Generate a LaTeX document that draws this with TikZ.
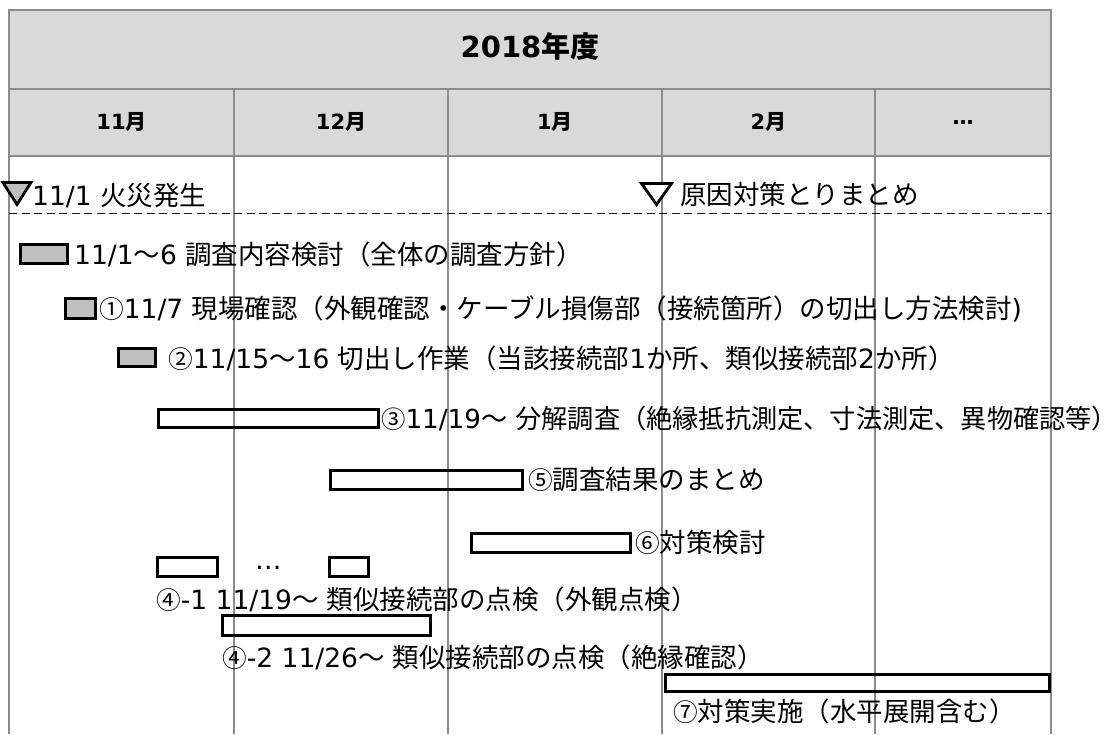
\documentclass[tikz,border=0pt]{standalone}
\usepackage{fontspec}
\usepackage{graphicx}
\setmainfont{Noto Sans CJK JP}
\newfontfamily\latn{DejaVu Sans}
\newcommand\circd[1]{\scalebox{0.93}{#1}}
\newcommand\lastparen{\makebox[0.5em][l]{）}}
\definecolor{hdr}{HTML}{D9D9D9}
\definecolor{gridc}{HTML}{8C8C8C}
\definecolor{barg}{HTML}{BFBFBF}
\begin{document}
\begin{tikzpicture}[x=1pt,y=-1pt,
  gridln/.style={draw=gridc, line width=1.6pt},
  hcell/.style={draw=gridc, line width=1.6pt, fill=hdr},
  bar/.style={draw=black, line width=3pt},
  graybar/.style={bar, fill=barg},
  lbl/.style={anchor=base west, inner sep=0pt, font=\fontsize{26.5}{30}\selectfont},
  hd/.style={anchor=base, inner sep=0pt, font=\fontsize{21}{24}\selectfont\bfseries},
  mile/.style={draw=black, line width=2.8pt},
  sep/.style={draw=black!90, line width=1.7pt, dash pattern=on 8pt off 4.5pt}]
\useasboundingbox (0,0) rectangle (1116,734);
% header
\path[hcell] (9,10) rectangle (1051,89);
\foreach \a/\b in {9/234,234/448,448/662,662/875,875/1051}
  \path[hcell] (\a,89) rectangle (\b,156);
\node[hd, font=\fontsize{29}{32}\selectfont\bfseries] (title) at (530,57.5) {{\latn 2018}年度};
\node[hd] (m11) at (121.5,129) {{\latn 11}月};
\node[hd] (m12) at (341,129) {{\latn 12}月};
\node[hd] (m1) at (555,129) {{\latn 1}月};
\node[hd] (m2) at (768.5,129) {{\latn 2}月};
\node[hd] (mdots) at (963,124) {{\latn …}};
% grid lines
\foreach \x in {9,234,448,662,875,1051}
  \draw[gridln] (\x,156) -- (\x,734);
% milestone separator
\draw[sep] (9,213.5) -- (1051,213.5);
% milestones
\draw[mile, fill=barg] (3,182.5) -- (31,182.5) -- (17,204.5) -- cycle;
\draw[mile, fill=white] (641.5,183.5) -- (671.5,183.5) -- (656.5,204.5) -- cycle;
\node[lbl] (fire) at (32,205) {{\latn 11/1 }火災発生};
\node[lbl] (summ) at (680,204) {原因対策とりまとめ};
% bars
\draw[graybar] (20.5,244.5) rectangle (67.5,263.5);
\draw[graybar] (65.5,298.5) rectangle (95.5,318.5);
\draw[graybar] (118.5,348.5) rectangle (155.5,366.5);
\draw[bar] (158.5,409.5) rectangle (378.5,427.5);
\draw[bar] (330.5,470.5) rectangle (522.5,489.5);
\draw[bar] (471.5,533.5) rectangle (630.5,552.5);
\draw[bar] (157.5,557.5) rectangle (217.5,576.5);
\draw[bar] (329.5,557.5) rectangle (368.5,576.5);
\draw[bar] (222.5,615.5) rectangle (430.5,635.5);
\draw[bar] (665.5,674.5) rectangle (1049.5,691.5);
% labels
\node[lbl] (t0) at (74,264) {{\latn 11/1}～{\latn 6 }調査内容検討（全体の調査方針）};
\node[lbl] (t1) at (99,318) {\circd{①}{\latn 11/7 }現場確認（外観確認・ケーブル損傷部（接続箇所）の切出し方法検討{\latn )}};
\node[lbl] (t2) at (168,368) {\circd{②}{\latn 11/15}～{\latn 16 }切出し作業（当該接続部{\latn 1}か所、類似接続部{\latn 2}か所）};
\node[lbl, font=\fontsize{26.2}{30}\selectfont] (t3) at (381,428) {\circd{③}{\latn 11/19}～{\latn\ }分解調査（絶縁抵抗測定、寸法測定、異物確認等\lastparen};
\node[lbl] (t5) at (528,489) {\circd{⑤}調査結果のまとめ};
\node[lbl] (t6) at (635,552) {\circd{⑥}対策検討};
\node[lbl] (dots) at (255,569) {{\latn …}};
\node[lbl] (t41) at (156,609) {\circd{④}{\latn -1 11/19}～{\latn\ }類似接続部の点検（外観点検）};
\node[lbl] (t42) at (222,667) {\circd{④}{\latn -2 11/26}～{\latn\ }類似接続部の点検（絶縁確認）};
\node[lbl] (t7) at (673,721) {\circd{⑦}対策実施（水平展開含む）};
\end{tikzpicture}
\end{document}
